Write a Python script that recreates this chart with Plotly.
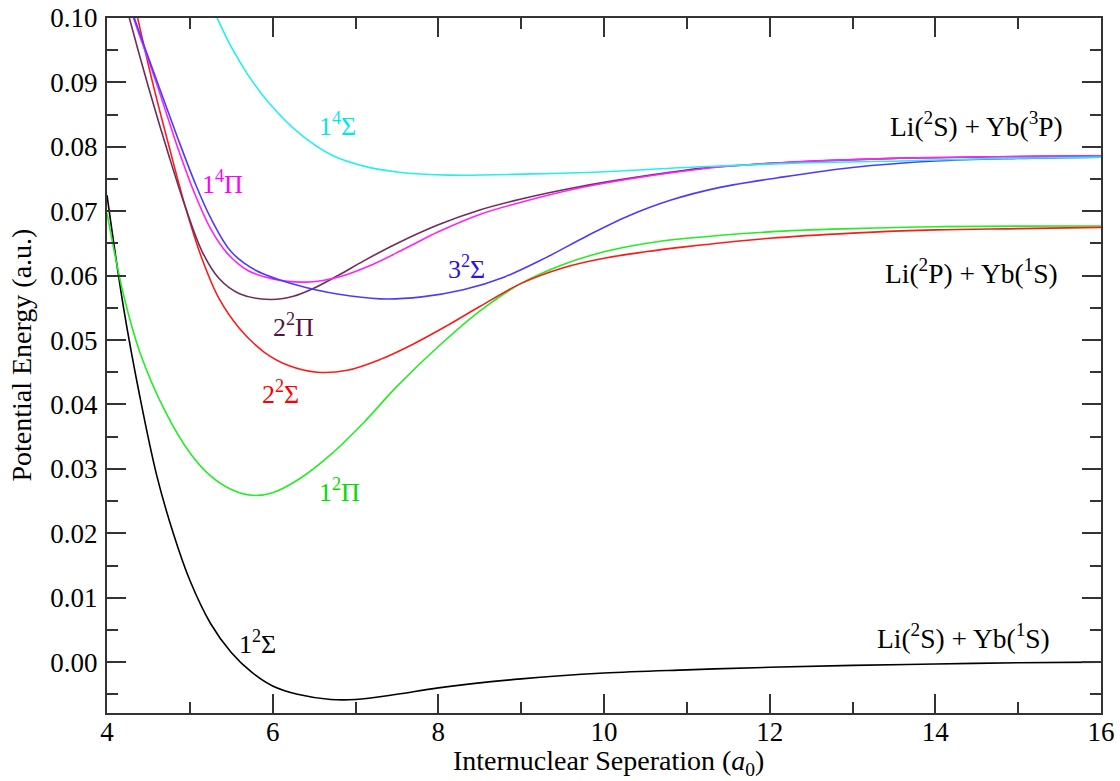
import plotly.graph_objects as go

# ---- data ----
x_12S = [4.0, 4.2, 4.4, 4.6, 4.8, 5.0, 5.25, 5.5, 5.75, 6.0, 6.3, 6.7, 7.0, 7.5, 8.0, 9.0, 10.0, 11.0, 12.0, 13.0, 14.0, 15.0, 16.0]
y_12S = [0.0725, 0.055, 0.041, 0.029, 0.020, 0.0127, 0.006, 0.0015, -0.0016, -0.0037, -0.0050, -0.0058, -0.0058, -0.0050, -0.0040, -0.0026, -0.0017, -0.0012, -0.0008, -0.0005, -0.0003, -0.0001, 0.0]

x_12P = [4.0, 4.2, 4.4, 4.7, 5.0, 5.25, 5.5, 5.75, 6.0, 6.33, 6.7, 7.1, 7.5, 8.0, 8.5, 9.0, 9.5, 10.0, 10.5, 11.0, 12.0, 13.0, 14.0, 16.0]
y_12P = [0.0697, 0.057, 0.048, 0.039, 0.0325, 0.0289, 0.0268, 0.0259, 0.0263, 0.0285, 0.0322, 0.0372, 0.0428, 0.0490, 0.0545, 0.0588, 0.0617, 0.0637, 0.0650, 0.0658, 0.0668, 0.0673, 0.0676, 0.0677]

x_22S = [4.25, 4.37, 4.55, 4.75, 4.95, 5.15, 5.35, 5.6, 5.9, 6.2, 6.54, 6.9, 7.3, 7.7, 8.1, 8.5, 9.0, 9.5, 10.0, 10.5, 11.0, 12.0, 13.0, 14.0, 15.0, 16.0]
y_22S = [0.107, 0.100, 0.0900, 0.0800, 0.0705, 0.0625, 0.0565, 0.0518, 0.0481, 0.0460, 0.0450, 0.0453, 0.0470, 0.0494, 0.0522, 0.0552, 0.0588, 0.0612, 0.0627, 0.0637, 0.0645, 0.0658, 0.0666, 0.0671, 0.0673, 0.0675]

x_22P = [4.15, 4.27, 4.5, 4.75, 4.95, 5.15, 5.35, 5.6, 5.97, 6.25, 6.49, 6.8, 7.1, 7.5, 8.0, 8.5, 9.0, 9.7, 10.4, 11.2, 12.1, 13.5, 16.0]
y_22P = [0.106, 0.100, 0.0893, 0.0785, 0.0705, 0.0637, 0.0596, 0.0572, 0.0563, 0.0568, 0.0580, 0.0601, 0.0623, 0.0650, 0.0679, 0.0702, 0.0719, 0.0738, 0.0753, 0.0767, 0.0775, 0.0782, 0.0786]

x_14P = [4.2, 4.32, 4.6, 4.85, 5.05, 5.25, 5.45, 5.7, 6.0, 6.4, 6.8, 7.2, 7.6, 8.0, 8.5, 9.0, 9.7, 10.4, 11.2, 12.1, 13.5, 16.0]
y_14P = [0.105, 0.100, 0.0898, 0.0800, 0.0730, 0.0673, 0.0635, 0.0608, 0.0595, 0.0590, 0.0598, 0.0617, 0.0642, 0.0668, 0.0695, 0.0714, 0.0736, 0.0752, 0.0766, 0.0775, 0.0782, 0.0786]

x_32S = [4.2, 4.33, 4.6, 4.85, 5.05, 5.25, 5.5, 5.8, 6.3, 6.8, 7.3, 7.8, 8.3, 8.8, 9.3, 9.8, 10.3, 10.8, 11.4, 12.1, 13.0, 14.0, 15.0, 16.0]
y_32S = [0.105, 0.100, 0.0903, 0.0815, 0.0748, 0.0690, 0.0637, 0.0608, 0.0585, 0.0571, 0.0564, 0.0567, 0.0578, 0.0598, 0.0628, 0.0662, 0.0693, 0.0717, 0.0737, 0.0752, 0.0768, 0.0778, 0.0782, 0.0784]

x_14S = [5.2, 5.34, 5.5, 5.7, 5.93, 6.33, 6.73, 7.1, 7.5, 8.14, 9.14, 9.95, 11.16, 12.37, 13.58, 14.79, 16.0]
y_14S = [0.1035, 0.0997, 0.0955, 0.0912, 0.0872, 0.0820, 0.0786, 0.0770, 0.0761, 0.0756, 0.0758, 0.0761, 0.0769, 0.0775, 0.0778, 0.0782, 0.0784]

series = [
    ("1²Σ", x_12S, y_12S, "#000000"),
    ("1²Π", x_12P, y_12P, "#22ee22"),
    ("2²Σ", x_22S, y_22S, "#ff1a1a"),
    ("2²Π", x_22P, y_22P, "#6e2d5a"),
    ("1⁴Π", x_14P, y_14P, "#ff22ff"),
    ("3²Σ", x_32S, y_32S, "#4a3cff"),
    ("1⁴Σ", x_14S, y_14S, "#22f0f0"),
]

# curve labels: text, x, y, colour
label_text = ["1<sup>4</sup>Σ", "1<sup>4</sup>Π", "2<sup>2</sup>Π", "3<sup>2</sup>Σ",
              "2<sup>2</sup>Σ", "1<sup>2</sup>Π", "1<sup>2</sup>Σ"]
label_x = [6.78, 5.40, 6.25, 8.34, 6.10, 6.81, 5.82]
label_y = [0.0834, 0.0744, 0.0523, 0.0612, 0.0419, 0.0267, 0.0030]
label_col = ["#00e8e8", "#ff00ff", "#5a1040", "#2a10ee", "#ff0000", "#00dd00", "#000000"]

asym_text = ["Li(<sup>2</sup>S) + Yb(<sup>3</sup>P)", "Li(<sup>2</sup>P) + Yb(<sup>1</sup>S)",
             "Li(<sup>2</sup>S) + Yb(<sup>1</sup>S)"]
asym_x = [15.57, 15.51, 15.41]
asym_y = [0.0834, 0.0606, 0.0040]

x_title = "Internuclear Seperation (<i>a</i><sub>0</sub>)"
y_title = "Potential Energy (a.u.)"

FONT = "Liberation Serif"

fig = go.Figure()
for name, xs, ys, col in series:
    fig.add_trace(go.Scatter(x=xs, y=ys, mode="lines", name=name,
                             line=dict(color=col, width=1.6, shape="spline", smoothing=1.0),
                             showlegend=False, hoverinfo="skip"))

for t, x, y, c in zip(label_text, label_x, label_y, label_col):
    fig.add_annotation(x=x, y=y, text=t, showarrow=False,
                       font=dict(family=FONT, size=26, color=c))
for t, x, y in zip(asym_text, asym_x, asym_y):
    fig.add_annotation(x=x, y=y, text=t, showarrow=False, xanchor="right",
                       font=dict(family=FONT, size=27.5, color="#000000"))

# axis titles as paper-positioned text
fig.add_annotation(xref="paper", yref="paper", x=0.505, y=-0.071, text=x_title,
                   showarrow=False, xanchor="center", yanchor="middle",
                   font=dict(family=FONT, size=28, color="#000000"))
fig.add_annotation(xref="paper", yref="paper", x=-0.086, y=0.515, text=y_title,
                   showarrow=False, textangle=-90, xanchor="center", yanchor="middle",
                   font=dict(family=FONT, size=28, color="#000000"))

axis_common = dict(showline=True, linecolor="#333333", linewidth=2, mirror="allticks",
                   ticks="inside", ticklen=19, tickwidth=2, tickcolor="#333333",
                   showgrid=False, zeroline=False, automargin=False,
                   tickfont=dict(family=FONT, size=27, color="#000000"))

fig.update_xaxes(range=[4, 16], tick0=4, dtick=2, ticklabelstandoff=-6,
                 minor=dict(dtick=1, ticks="inside", ticklen=11, tickwidth=2, tickcolor="#333333"),
                 **axis_common)
fig.update_yaxes(range=[-0.0079, 0.1], tick0=0, dtick=0.01, tickformat=".2f", ticklabelstandoff=2,
                 minor=dict(dtick=0.005, ticks="inside", ticklen=11, tickwidth=2, tickcolor="#333333"),
                 **axis_common)

fig.update_layout(width=1120, height=781, margin=dict(l=107, r=19, t=18, b=68),
                  plot_bgcolor="white", paper_bgcolor="white")

fig.write_html("out.html")
